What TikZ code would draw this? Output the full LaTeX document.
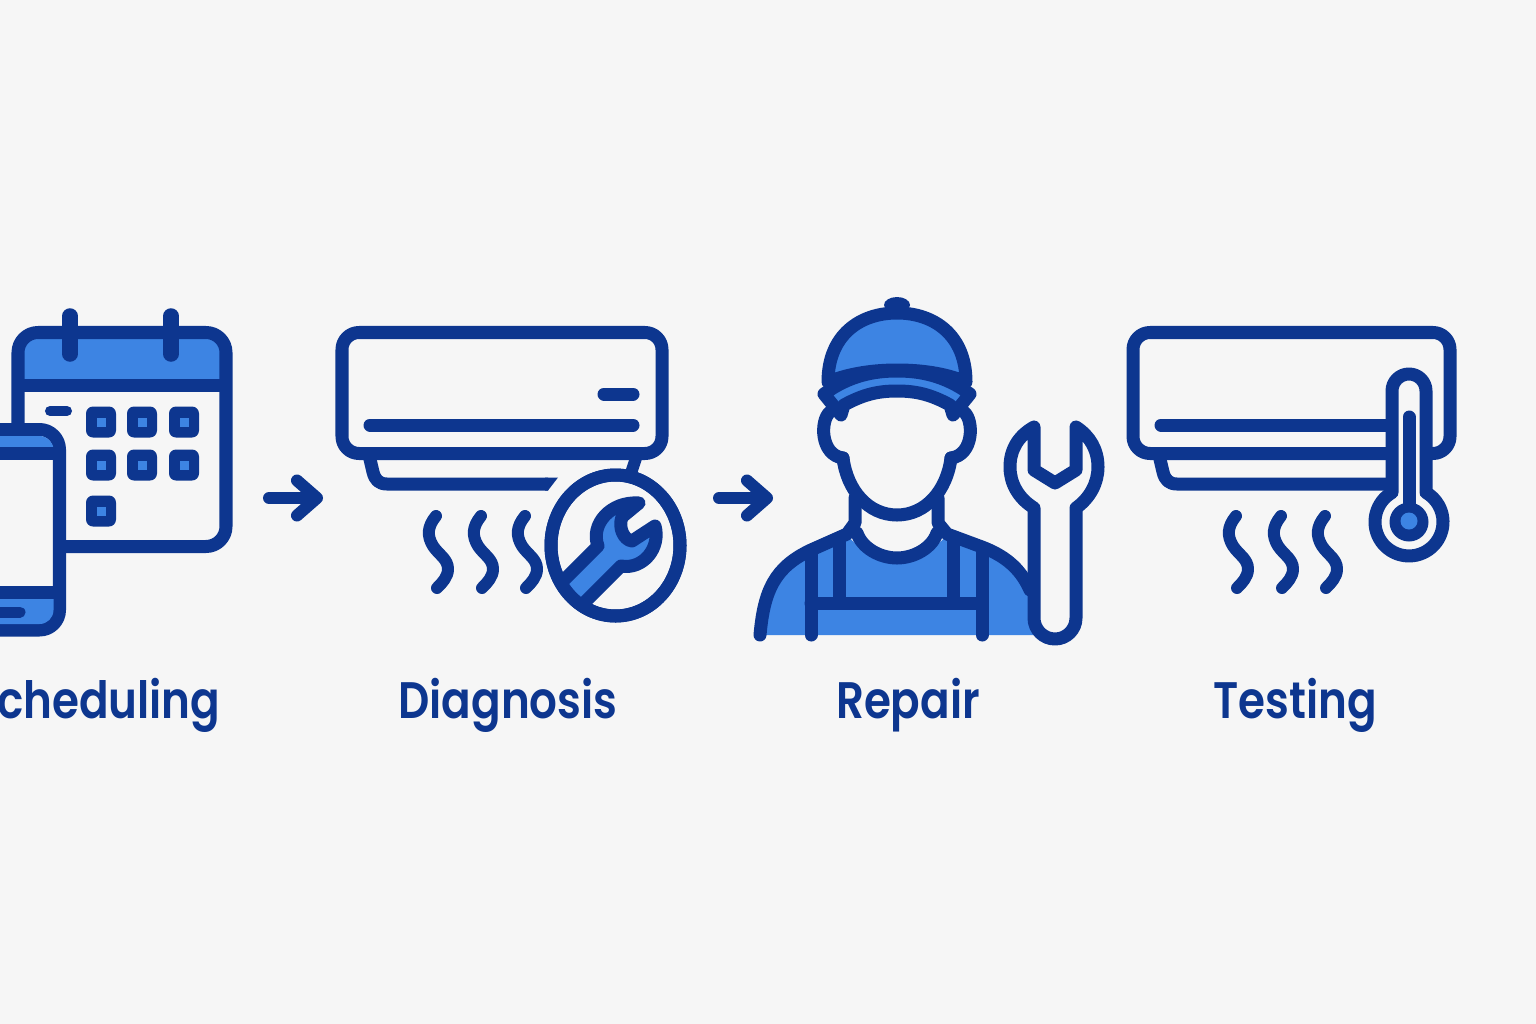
\documentclass[tikz,border=0pt]{standalone}
\usepackage{fontspec}
\setmainfont{Poppins}[BoldFont=Poppins SemiBold,BoldFeatures={FakeStretch=0.85}]
\usetikzlibrary{arrows.meta}
\definecolor{navyink}{HTML}{0D368F}
\definecolor{skyfill}{HTML}{3D84E3}
\definecolor{paper}{HTML}{F6F6F6}
\tikzset{
  ink/.style={draw=navyink,line width=0.13cm,line cap=round,line join=round},
  thinink/.style={ink,line width=0.12cm},
  caption/.style={text=navyink,font=\fontsize{14.6pt}{18pt}\selectfont\bfseries,inner sep=0pt},
  flow/.style={thinink,-{Straight Barb[round,length=0.2cm,width=0.35cm]}},
  gridkey/.pic={
    \fill[navyink,rounded corners=0.07cm] (-15,-15.5) rectangle (15,15.5);
    \fill[skyfill] (-4.5,-4.5) rectangle (4.5,4.5);
  },
  waves/.pic={
    \foreach \dx in {0,45,89}
      \draw[thinink] ({\dx},0) .. controls ({\dx-9},11) and ({\dx-9},20) .. ({\dx-3},30)
        .. controls ({\dx+3},39) and ({\dx+12},43) .. ({\dx+12},53)
        .. controls ({\dx+12},61) and ({\dx+6},67) .. ({\dx+1},72);
  }
}
\begin{document}
\begin{tikzpicture}[x=0.01cm,y=-0.01cm]
  \fill[paper] (0,0) rectangle (1536,1024);
  \useasboundingbox (0,0) rectangle (1536,1024);

  \fill[skyfill] (18,385) [rounded corners=0.2cm] -- (18,332.5) -- (226,332.5) [sharp corners] -- (226,385) -- cycle;
  \draw[ink,rounded corners=0.2cm] (18,332.5) rectangle (226,546.5);
  \draw[ink,line cap=butt] (18,385) -- (226,385);
  \draw[ink,line width=0.155cm] (70,316) -- (70,354);
  \draw[ink,line width=0.155cm] (171,316) -- (171,354);
  \draw[ink,line width=0.1cm] (50,411) -- (67,411);
  \foreach \cx/\cy in {101/422,142/422,184/422,101/465,142/465,184/465,101/511}
    \pic at (\cx,\cy) {gridkey};
  \draw[ink,fill=paper,rounded corners=0.2cm] (-60,429.5) rectangle (59.5,630);
  \fill[skyfill] (-60,453.5) -- (-60,436) [rounded corners=0.14cm] -- (53.5,436) [sharp corners] -- (53.5,453.5) -- cycle;
  \fill[skyfill] (-60,592.5) -- (53.5,592.5) [rounded corners=0.14cm] -- (53.5,624) [sharp corners] -- (-60,624) -- cycle;
  \draw[ink,line cap=butt] (-60,453.5) -- (59.5,453.5);
  \draw[ink,line cap=butt] (-60,592.5) -- (59.5,592.5);
  \draw[ink,line width=0.11cm] (-10,612) -- (20,612);

  \coordinate (flowa) at (269,498);
  \coordinate (flowb) at (323,498);
  \draw[flow] (flowa) to (flowb);

  \draw[ink,rounded corners=0.17cm] (342,332.5) rectangle (662,453.5);
  \draw[ink] (370,425) -- (633,425);
  \draw[ink] (604,394) -- (633,394);
  \draw[ink,line cap=butt] (369,455) -- (373,472) .. controls (375,480) and (379,484) .. (387,484) -- (548,484);
  \fill[navyink] (545,477.5) -- (558,477.5) -- (548,490.5) -- (545,490.5) -- cycle;
  \draw[thinink,line cap=butt] (636,458) -- (631,473);
  \pic at (436,516) {waves};
  \draw[ink,fill=paper] (615.5,545.5) ellipse [x radius=64.5,y radius=70.5];
  \begin{scope}
    \clip (615.5,545.5) ellipse [x radius=66,y radius=72];
    \draw[ink,fill=skyfill] (558,586) -- (598,546) .. controls (590,525) and (610,501) .. (639,503)
      -- (622,517) .. controls (618,528) and (624,540) .. (632,541) -- (655,526)
      .. controls (661,548) and (643,570) .. (621,566) -- (580,607) -- cycle;
  \end{scope}
  \draw[ink] (615.5,545.5) ellipse [x radius=64.5,y radius=70.5];

  \coordinate (flowc) at (719,498);
  \coordinate (flowd) at (773,498);
  \draw[flow] (flowc) to (flowd);

  \fill[skyfill] (760,635) .. controls (764,590) and (775,567) .. (811,550) -- (847,534)
    .. controls (853,545) and (875,558) .. (897,558) .. controls (919,558) and (941,545) .. (947,534)
    -- (982,547) .. controls (1003,555) and (1020,567) .. (1030,590) -- (1035,635) -- cycle;
  \draw[ink] (760,635) .. controls (764,590) and (775,567) .. (811,550) -- (847,534) -- (855,523) -- (855,498);
  \draw[ink] (938,498) -- (938,523) -- (947,534) -- (982,547) .. controls (1003,555) and (1020,567) .. (1030,590);
  \draw[ink] (857,533) .. controls (862,548) and (880,558) .. (897,558) .. controls (914,558) and (932,548) .. (937,533);
  \draw[ink] (811,552) -- (811,635);
  \draw[ink] (839,542) -- (839,603);
  \draw[ink] (953,542) -- (953,603);
  \draw[ink] (982,552) -- (982,635);
  \draw[ink] (811,603) -- (982,603);
  \draw[ink] (843,458) .. controls (847,490) and (868,515) .. (897,515) .. controls (926,515) and (947,490) .. (951,458);
  \draw[ink] (830,412) .. controls (820,420) and (820,455) .. (843,458);
  \draw[ink] (964,412) .. controls (974,420) and (974,455) .. (951,458);
  \fill[navyink] (897,305) ellipse [x radius=13,y radius=8];
  \draw[ink,fill=skyfill] (828,382) .. controls (828,335) and (860,313) .. (897,313)
    .. controls (934,313) and (966,335) .. (966,382) .. controls (945,373) and (920,370) .. (897,370)
    .. controls (875,370) and (850,373) .. (828,382) -- cycle;
  \draw[ink,fill=skyfill] (824,394) .. controls (850,375) and (875,371) .. (897,371)
    .. controls (919,371) and (944,375) .. (970,394) -- (953,415) -- (950,405)
    .. controls (930,394) and (915,391) .. (897,391) .. controls (879,391) and (864,394) .. (844,405)
    -- (841,415) -- cycle;

  \draw[ink,fill=paper] (1034,618) -- (1034,508) .. controls (1018,498) and (1010,483) .. (1010,467)
    .. controls (1010,450) and (1018,436) .. (1034,427) -- (1034,470) -- (1055,483) -- (1076,470) -- (1076,427)
    .. controls (1090,436) and (1098,450) .. (1098,467) .. controls (1098,483) and (1090,498) .. (1076,508)
    -- (1076,618) arc [start angle=0,end angle=180,radius=21] -- cycle;

  \draw[ink,rounded corners=0.17cm] (1133,332.5) rectangle (1450,453.5);
  \draw[ink] (1161,425) -- (1392,425);
  \draw[ink,line cap=butt] (1159,455) -- (1163,472) .. controls (1165,480) and (1169,484) .. (1177,484) -- (1392,484);
  \pic at (1236,516) {waves};
  \draw[ink,fill=paper] (1426,487.5) -- (1426,391) arc [start angle=360,end angle=180,radius=17] -- (1392,492.5)
    arc [start angle=240,end angle=-60,radius=34] -- cycle;
  \fill[navyink] (1409,522) circle [radius=19.5];
  \fill[skyfill] (1409,521) circle [radius=8.5];
  \draw[ink] (1409,417) -- (1409,505);

  \node[caption,anchor=base east] (labelscheduling) at (221,718) {Scheduling};
  \node[caption,anchor=base] (labeldiagnosis) at (508,718) {Diagnosis};
  \node[caption,anchor=base] (labelrepair) at (908,718) {Repair};
  \node[caption,anchor=base] (labeltesting) at (1295.5,718) {Testing};
\end{tikzpicture}
\end{document}
